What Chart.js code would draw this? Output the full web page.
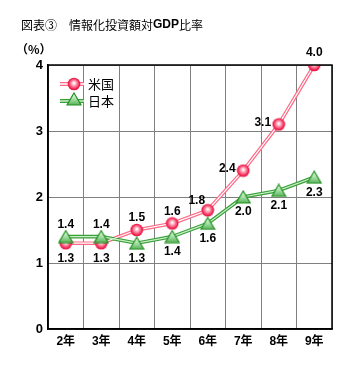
<!DOCTYPE html>
<html>
<head>
<meta charset="utf-8">
<script src="https://cdn.jsdelivr.net/npm/chart.js@4/dist/chart.umd.min.js"></script>
<style>
  html, body { margin: 0; padding: 0; background: #fff; }
  #wrap { position: relative; width: 353px; height: 390px; }
</style>
</head>
<body>
<div id="wrap"><canvas id="gdpChart" width="353" height="390"></canvas></div>
<script>
const years = ["2年", "3年", "4年", "5年", "6年", "7年", "8年", "9年"];
const usValues = [1.3, 1.3, 1.5, 1.6, 1.8, 2.4, 3.1, 4.0];
const jpValues = [1.4, 1.4, 1.3, 1.4, 1.6, 2.0, 2.1, 2.3];
const yTicks = [0, 1, 2, 3, 4];
const seriesNames = ["米国", "日本"];
const titleText = ["図表③　情報化投資額対", "GDP", "比率"];
const unitText = "（%）";

// where each value label sits relative to its point
const usLabelPos = ["below", "below", "above", "above", "aboveLeft", "left", "left", "above"];
const jpLabelPos = ["above", "above", "below", "below", "below", "below", "below", "below"];

const boldFont = "bold 12px 'Liberation Sans', Arial, sans-serif";
const jpFont = "12px 'Noto Sans CJK JP', sans-serif";

// marker images
function makeCircle() {
    var c = document.createElement("canvas");
    c.width = 14; c.height = 14;
    var g = c.getContext("2d");
    var grad = g.createRadialGradient(7, 6, 0.5, 7, 7, 7);
    grad.addColorStop(0, "#ffffff");
    grad.addColorStop(0.35, "#ff90a8");
    grad.addColorStop(0.75, "#f0204c");
    grad.addColorStop(1, "#d0003a");
    g.beginPath();
    g.arc(7, 7, 6.3, 0, Math.PI * 2);
    g.fillStyle = grad;
    g.fill();
    return c;
}

function makeTriangle() {
    var c = document.createElement("canvas");
    c.width = 16; c.height = 14;
    var g = c.getContext("2d");
    var grad = g.createLinearGradient(0, 1, 0, 13);
    grad.addColorStop(0, "#e8ffe8");
    grad.addColorStop(0.5, "#a8e0a8");
    grad.addColorStop(1, "#58b058");
    g.beginPath();
    g.moveTo(8, 1);
    g.lineTo(15, 13);
    g.lineTo(1, 13);
    g.closePath();
    g.fillStyle = grad;
    g.fill();
    g.lineWidth = 1.2;
    g.strokeStyle = "#209020";
    g.stroke();
    return c;
}

const circleImg = makeCircle();
const triangleImg = makeTriangle();

const usColor = "#ff6a86";
const jpColor = "#3aa03a";

const frameAndText = {
    id: "frameAndText",
    afterDraw(chart) {
        var ctx = chart.ctx;
        var a = chart.chartArea;
        ctx.save();
        ctx.strokeStyle = "#000";
        ctx.lineWidth = 1.5;
        ctx.strokeRect(a.left, a.top, a.right - a.left, a.bottom - a.top);

        // title
        ctx.fillStyle = "#000";
        ctx.textBaseline = "middle";
        ctx.textAlign = "left";
        var x = 21;
        ctx.font = jpFont;
        ctx.fillText(titleText[0], x, 25);
        x += ctx.measureText(titleText[0]).width;
        ctx.font = boldFont;
        ctx.fillText(titleText[1], x, 25);
        x += ctx.measureText(titleText[1]).width;
        ctx.font = jpFont;
        ctx.fillText(titleText[2], x, 25);

        ctx.font = "bold 12px 'Noto Sans CJK JP', sans-serif";
        ctx.fillText(unitText, 16, 49);

        // legend
        var items = [
            { y: 84, color: usColor, inner: "#ffffff", img: circleImg },
            { y: 101, color: jpColor, inner: "#c8f0c8", img: triangleImg }
        ];
        items.forEach(function(it, i) {
            ctx.strokeStyle = it.color;
            ctx.lineWidth = 4;
            ctx.beginPath();
            ctx.moveTo(60, it.y);
            ctx.lineTo(84, it.y);
            ctx.stroke();
            ctx.strokeStyle = it.inner;
            ctx.lineWidth = 1.5;
            ctx.stroke();
            ctx.drawImage(it.img, 74 - it.img.width / 2, it.y - it.img.height / 2 - (i === 1 ? 2 : 0));
            ctx.fillStyle = "#000";
            ctx.font = "13px 'Noto Sans CJK JP', sans-serif";
            ctx.textAlign = "left";
            ctx.fillText(seriesNames[i], 88, it.y);
        });
        ctx.restore();
    }
};

const valueLabels = {
    id: "valueLabels",
    afterDatasetsDraw(chart) {
        var ctx = chart.ctx;
        ctx.save();
        ctx.font = boldFont;
        ctx.fillStyle = "#000";
        ctx.textAlign = "center";
        ctx.textBaseline = "middle";
        // dataset 1 = 米国 markers, dataset 0 = 日本 markers
        [[1, usValues, usLabelPos], [0, jpValues, jpLabelPos]].forEach(function(s) {
            var meta = chart.getDatasetMeta(s[0]);
            meta.data.forEach(function(pt, i) {
                var dx = 0, dy = 0;
                var pos = s[2][i];
                if (pos === "above") dy = -12;
                else if (pos === "below") dy = 15;
                else if (pos === "left") { dx = -16; dy = -2; }
                else if (pos === "aboveLeft") { dx = -11; dy = -10; }
                ctx.fillText(s[1][i].toFixed(1), pt.x + dx, pt.y + dy);
            });
        });
        ctx.restore();
    }
};

window.onload = function() {
    var context = document.getElementById("gdpChart").getContext("2d");
    new Chart(context, {
        type: "line",
        data: {
            labels: years,
            datasets: [
                // markers (drawn on top)
                { label: seriesNames[1], data: jpValues, showLine: false, pointStyle: triangleImg, order: 0 },
                { label: seriesNames[0], data: usValues, showLine: false, pointStyle: circleImg, order: 1 },
                // inner light lines
                { data: jpValues, borderColor: "#c8f0c8", borderWidth: 1.2, pointRadius: 0, order: 2 },
                { data: usValues, borderColor: "#ffffff", borderWidth: 1.2, pointRadius: 0, order: 3 },
                // outer coloured lines
                { data: jpValues, borderColor: jpColor, borderWidth: 3.6, pointRadius: 0, order: 4 },
                { data: usValues, borderColor: usColor, borderWidth: 3.6, pointRadius: 0, order: 5 }
            ]
        },
        options: {
            responsive: false,
            animation: false,
            layout: { padding: { top: 65, right: 21, left: 0, bottom: 0 } },
            plugins: {
                legend: { display: false },
                tooltip: { enabled: false }
            },
            scales: {
                x: {
                    offset: true,
                    grid: { offset: true, color: "#808080", drawTicks: false },
                    border: { color: "#000", width: 1.5 },
                    ticks: { color: "#000", font: { size: 12, weight: "bold", family: "'Liberation Sans', 'Noto Sans CJK JP', sans-serif" }, padding: 5 },
                    afterFit(scale) { scale.height = 61; }
                },
                y: {
                    min: 0,
                    max: 4,
                    afterBuildTicks(scale) { scale.ticks = yTicks.map(v => ({ value: v })); },
                    grid: { color: "#808080", drawTicks: false },
                    border: { color: "#000", width: 1.5 },
                    ticks: { color: "#000", font: { size: 13, weight: "bold", family: "'Liberation Sans', Arial, sans-serif" }, padding: 5 },
                    afterFit(scale) { scale.width = 48; }
                }
            }
        },
        plugins: [valueLabels, frameAndText]
    });
}
</script>
</body>
</html>
